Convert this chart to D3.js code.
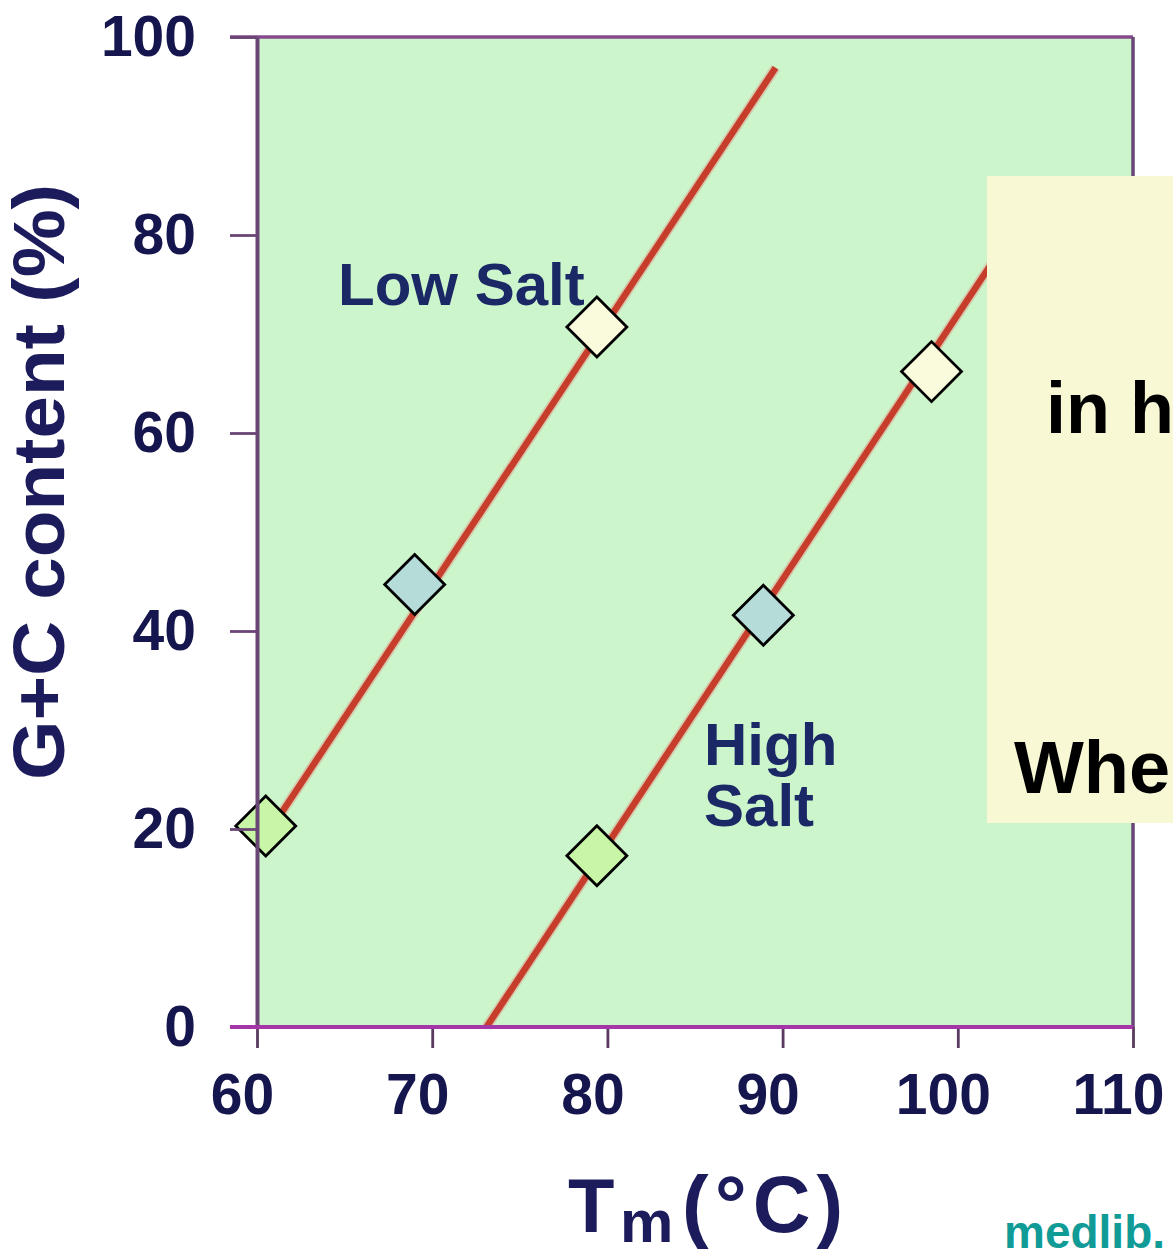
<!DOCTYPE html>
<html>
<head>
<meta charset="utf-8">
<script src="https://cdn.jsdelivr.net/npm/d3@7"></script>
<style>
  html, body { margin: 0; padding: 0; background: #ffffff; }
  svg { display: block; }
  text { font-family: "Liberation Sans", Arial, Helvetica, sans-serif; }
</style>
</head>
<body>
<script>
// ---- Data ----
const xTicks = [60, 70, 80, 90, 100, 110];
const yTicks = [0, 20, 40, 60, 80, 100];
const xDomain = [60, 110];
const yDomain = [0, 100];

// Line end points (Tm °C, G+C %)
const lowSaltLine = [[60.6, 19.5], [89.6, 96.9]];
const highSaltLine = [[73.1, 0], [104.5, 84]];

// Marker points
const lowSaltPoints = [
  { tm: 60.5, gc: 20.3, kind: "green" },
  { tm: 69.0, gc: 44.7, kind: "blue" },
  { tm: 79.4, gc: 70.7, kind: "yellow" }
];
const highSaltPoints = [
  { tm: 79.4, gc: 17.3, kind: "green" },
  { tm: 88.9, gc: 41.6, kind: "blue" },
  { tm: 98.5, gc: 66.2, kind: "yellow" }
];
const markerColors = { green: "#c8f5a6", blue: "#b6dcd9", yellow: "#fafadc" };

const W = 1173, H = 1254;
const svg = d3.select("body").append("svg").attr("width", W).attr("height", H);

const x = d3.scaleLinear().domain(xDomain).range([257, 1133]);
const y = d3.scaleLinear().domain(yDomain).range([1027, 37]);

const axisColor = "#6a4676";
const labelColor = "#16164e";

// plot background
svg.append("rect")
  .attr("x", x(60)).attr("y", y(100))
  .attr("width", x(110) - x(60)).attr("height", y(0) - y(100))
  .attr("fill", "#ccf5cc");

// Lines
const line = d3.line().x(d => x(d[0])).y(d => y(d[1]));
[lowSaltLine, highSaltLine].forEach(ln => {
  svg.append("path").attr("d", line(ln))
    .attr("fill", "none").attr("stroke", "#e39484").attr("stroke-width", 10).attr("opacity", 0.45);
  svg.append("path").attr("d", line(ln))
    .attr("fill", "none").attr("stroke", "#c63d2c").attr("stroke-width", 6.5);
});

// Markers
const diamond = d3.symbol().type(d3.symbolSquare).size(1800);
[...lowSaltPoints, ...highSaltPoints].forEach(p => {
  svg.append("path")
    .attr("d", diamond())
    .attr("transform", `translate(${x(p.tm)},${y(p.gc)}) rotate(45)`)
    .attr("fill", markerColors[p.kind])
    .attr("stroke", "#000").attr("stroke-width", 2.8);
});

// Frame lines
svg.append("line").attr("x1", 230).attr("x2", x(110)).attr("y1", y(100)).attr("y2", y(100))
  .attr("stroke", "#864a8c").attr("stroke-width", 3.5);
svg.append("line").attr("x1", x(110)).attr("x2", x(110)).attr("y1", y(100)).attr("y2", y(0))
  .attr("stroke", axisColor).attr("stroke-width", 3.5);

// Y axis
const yAxis = d3.axisLeft(y).tickValues(yTicks).tickSize(27).tickSizeOuter(0).tickPadding(34);
const gy = svg.append("g").attr("transform", `translate(${x(60)},0)`).call(yAxis);
gy.select(".domain").attr("stroke", axisColor).attr("stroke-width", 4);
gy.selectAll(".tick line").attr("stroke", axisColor).attr("stroke-width", 2.8);
gy.selectAll(".tick text")
  .attr("fill", labelColor).attr("font-size", 57).attr("font-weight", "bold")
  .style("font-family", '"Liberation Sans", Arial, sans-serif');

// X axis
const xAxis = d3.axisBottom(x).tickValues(xTicks).tickSize(21).tickSizeOuter(0).tickPadding(26);
const gx = svg.append("g").attr("transform", `translate(0,${y(0)})`).call(xAxis);
gx.select(".domain").remove();
gx.selectAll(".tick line").attr("stroke", "#5a3a60").attr("stroke-width", 2.8);
gx.selectAll(".tick text")
  .attr("dx", -15)
  .attr("fill", labelColor).attr("font-size", 57).attr("font-weight", "bold")
  .style("font-family", '"Liberation Sans", Arial, sans-serif');

// bottom line (magenta)
svg.append("line").attr("x1", 230).attr("x2", x(110)).attr("y1", y(0)).attr("y2", y(0))
  .attr("stroke", "#a536a8").attr("stroke-width", 4);

// Series labels
svg.append("text").attr("x", 338).attr("y", 305)
  .attr("fill", "#1b2866").attr("font-size", 60).attr("font-weight", "bold")
  .text("Low Salt");
svg.append("text").attr("x", 704).attr("y", 765)
  .attr("fill", "#1b2866").attr("font-size", 60).attr("font-weight", "bold").text("High");
svg.append("text").attr("x", 704).attr("y", 826)
  .attr("fill", "#1b2866").attr("font-size", 60).attr("font-weight", "bold").text("Salt");

// Axis titles
svg.append("text")
  .attr("transform", "translate(64,482) rotate(-90)")
  .attr("text-anchor", "middle")
  .attr("fill", "#1c1c5c").attr("font-size", 72).attr("font-weight", "bold")
  .attr("textLength", 596).attr("lengthAdjust", "spacingAndGlyphs")
  .text("G+C content (%)");

const xt = svg.append("text").attr("y", 1232)
  .attr("fill", "#1c1c5c").attr("font-weight", "bold").attr("font-size", 76);
xt.append("tspan").attr("x", 568).text("T");
xt.append("tspan").attr("x", 620).attr("font-size", 60).attr("dy", 10).text("m");
xt.append("tspan").attr("x", 682).attr("dy", -10).attr("font-size", 80)
  .attr("letter-spacing", 6).text("(°C)");

// Overlay yellow box with text
svg.append("rect").attr("x", 987).attr("y", 176).attr("width", W - 987).attr("height", 823 - 176)
  .attr("fill", "#f8f8d4");
svg.append("text").attr("x", 1046).attr("y", 433)
  .attr("fill", "#000").attr("font-size", 72).attr("font-weight", "bold").text("in h");
svg.append("text").attr("x", 1014).attr("y", 793)
  .attr("fill", "#000").attr("font-size", 74).attr("font-weight", "bold").text("Whe");

// watermark
svg.append("text").attr("x", 1004).attr("y", 1248)
  .attr("fill", "#119b97").attr("font-size", 46).attr("font-weight", "bold").text("medlib.");
</script>
</body>
</html>
